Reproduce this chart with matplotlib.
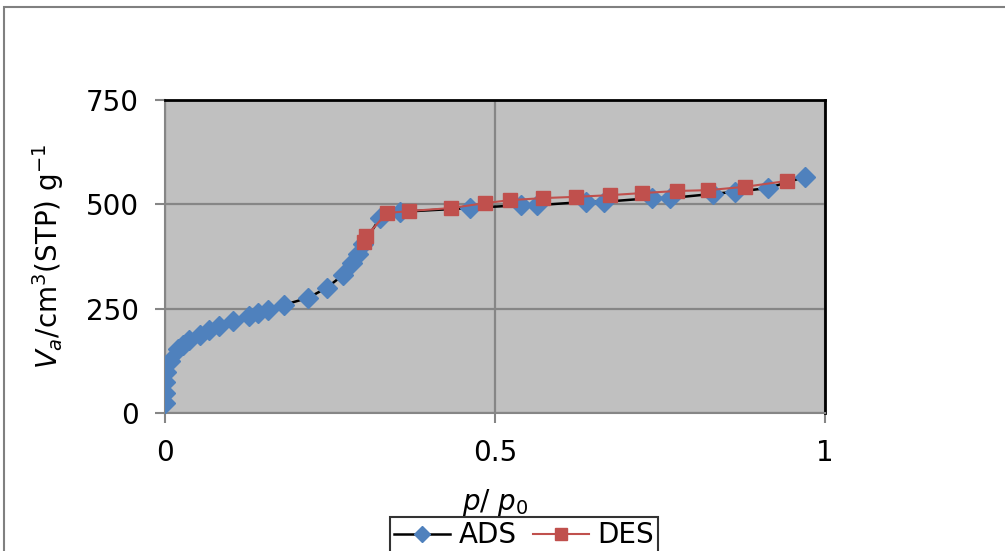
import matplotlib.pyplot as plt
from matplotlib.patches import Rectangle

# adsorption branch (p/p0, Va)
ads_x = [0.0, 0.0, 0.0, 0.0015, 0.0076, 0.020, 0.027, 0.036, 0.053, 0.067,
         0.082, 0.103, 0.127, 0.141, 0.156, 0.180, 0.217, 0.245, 0.270, 0.283,
         0.292, 0.300, 0.326, 0.356, 0.462, 0.539, 0.564, 0.638, 0.665, 0.738,
         0.765, 0.830, 0.864, 0.914, 0.970]
ads_y = [24, 48, 74, 98, 124, 153, 163, 175, 187, 199,
         208, 220, 232, 240, 247, 259, 276, 300, 331, 359,
         381, 405, 467, 482, 491, 498, 498, 506, 506, 515,
         515, 525, 530, 539, 566]

# desorption branch
des_x = [0.302, 0.305, 0.336, 0.370, 0.433, 0.485, 0.523, 0.573, 0.623, 0.674,
         0.723, 0.776, 0.823, 0.879, 0.942]
des_y = [410, 424, 479, 484, 491, 503, 510, 515, 518, 522,
         527, 532, 534, 542, 556]

fig = plt.figure(figsize=(10.05, 5.51), dpi=100)
ax = fig.add_axes([165/1005, 1 - 413/551, 660/1005, 313/551])

ax.set_facecolor('#c0c0c0')
ax.plot(ads_x, ads_y, color='black', lw=1.8, marker='D', ms=10,
        mfc='#4f81bd', mec='#4f81bd', label='ADS', zorder=3)
ax.plot(des_x, des_y, color='#c0504d', lw=1.5, marker='s', ms=10,
        mfc='#c0504d', mec='#c0504d', label='DES', zorder=4)

ax.set_xlim(0, 1)
ax.set_ylim(0, 750)
ax.set_xticks([0, 0.5, 1])
ax.set_xticklabels(['0', '0.5', '1'])
ax.set_yticks([0, 250, 500, 750])
ax.grid(True, color='#868686', lw=1.6)
ax.set_axisbelow(True)

for s in ['left', 'bottom']:
    ax.spines[s].set_color('#868686')
    ax.spines[s].set_linewidth(1.5)
for s in ['top', 'right']:
    ax.spines[s].set_color('black')
    ax.spines[s].set_linewidth(2)

ax.tick_params(axis='both', labelsize=20, color='#868686', width=1.5,
               length=7, direction='out')
ax.tick_params(axis='y', pad=12)
ax.tick_params(axis='x', pad=12)

ax.set_xlabel(r'$p$/ $p_0$', fontsize=20, labelpad=14)
ax.set_ylabel(r'$V_a$/cm$^3$(STP) g$^{-1}$', fontsize=20, labelpad=14)

fig.legend(loc='lower center', bbox_to_anchor=(524/1005, -0.03), ncol=2,
           fontsize=20, frameon=True, fancybox=False, edgecolor='black',
           handlelength=2.0, columnspacing=0.6, handletextpad=0.3,
           borderpad=0.15, markerscale=0.8).get_frame().set_linewidth(1.5)

# outer chart border
fig.patches.append(Rectangle((4/1005, -0.05), 1.05, 1 - 7/551 + 0.05,
                             transform=fig.transFigure, fill=False,
                             edgecolor='#808080', lw=1.5))

fig.savefig('out.png', dpi=100)
